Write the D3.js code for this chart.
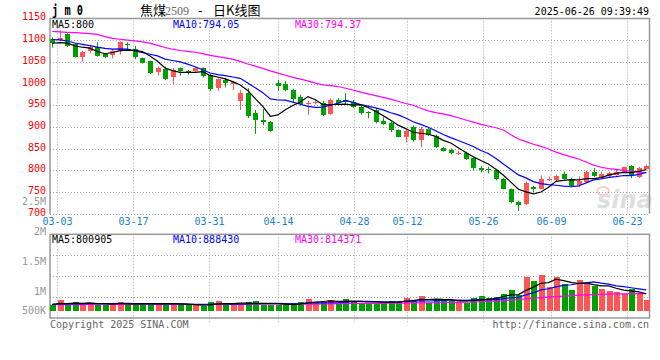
<!DOCTYPE html>
<html>
<head>
<meta charset="utf-8">
<script src="https://cdnjs.cloudflare.com/ajax/libs/d3/7.8.5/d3.min.js"></script>
<style>
body { margin: 0; background: #fff; }
svg { display: block; }
text { font-family: "DejaVu Sans Mono", "Liberation Mono", monospace; font-size: 10px; }
</style>
</head>
<body>
<div id="chart"></div>
<script>
// trading days shown, 02-28 .. 06-26
var dates = ['02-28',
  '03-03','03-04','03-05','03-06','03-07','03-10','03-11','03-12','03-13','03-14',
  '03-17','03-18','03-19','03-20','03-21','03-24','03-25','03-26','03-27','03-28','03-31',
  '04-01','04-02','04-03','04-07','04-08','04-09','04-10','04-11','04-14','04-15',
  '04-16','04-17','04-18','04-21','04-22','04-23','04-24','04-25','04-28','04-29','04-30',
  '05-06','05-07','05-08','05-09','05-12','05-13','05-14','05-15','05-16','05-19','05-20',
  '05-21','05-22','05-23','05-26','05-27','05-28','05-29','05-30',
  '06-03','06-04','06-05','06-06','06-09','06-10','06-11','06-12','06-13','06-16','06-17',
  '06-18','06-19','06-20','06-23','06-24','06-25','06-26'];

var opens = [1102,1100,1114,1091,1062,1076,1083,1068,1066,1078,
  1091,1079,1059,1052,1027,1033,1014,1035,1029,1029,
  1036,1020,989,1009,999,960,979,932,916,912,
  1002,1000,985,970,952,954,956,930,962,961,
  957,945,935,938,913,910,893,877,900,870,
  895,880,852,847,838,841,828,806,803,801,
  780,757,728,722,762,758,779,777,791,781,
  766,774,795,783,787,789,795,810,784,804];
var highs = [1106,1123,1116,1093,1075,1089,1095,1070,1080,1097,
  1095,1087,1060,1053,1039,1039,1036,1037,1031,1038,
  1037,1022,1012,1013,1006,985,989,939,941,914,
  1008,1006,988,974,960,962,960,966,966,978,
  962,948,936,942,922,912,894,893,903,900,
  897,882,854,850,844,843,830,810,808,802,
  782,758,730,774,764,788,786,790,797,783,
  786,799,805,797,797,803,808,812,808,813];
var lows = [1083,1097,1084,1060,1050,1070,1062,1058,1058,1067,
  1077,1056,1046,1022,1018,1008,999,1018,1021,1027,
  1014,983,983,991,985,939,920,884,904,889,
  983,982,957,949,927,952,925,928,950,950,
  944,928,920,908,905,888,876,864,866,853,
  879,851,843,837,835,824,800,795,793,777,
  756,724,706,720,750,757,775,773,779,762,
  762,771,785,780,785,788,793,782,782,802];
var closes = [1093,1104,1086,1062,1073,1083,1064,1061,1076,1095,
  1088,1061,1048,1025,1035,1010,1031,1028,1024,1036,
  1018,987,1010,1002,1004,979,925,916,912,891,
  994,985,964,952,954,958,928,963,956,957,
  947,933,931,912,907,893,877,891,870,896,
  881,853,845,839,841,826,805,801,800,779,
  758,726,719,770,756,779,781,787,781,764,
  776,797,787,791,793,797,807,786,806,811];
// closes of the sessions before 02-28 (for the first MA points)
var prevCloses = [1115,1110,1108,1105,1112,1098,1090,1095,1088];

var ma30 = [1120,1119,1118,1117,1116,1115,1113,1108,1104,1102,
  1100,1098,1096,1093,1088,1083,1079,1076,1074,1072,
  1069,1065,1062,1059,1056,1051,1045,1040,1035,1029,
  1024,1019,1014,1010,1006,1001,997,995,993,989,
  985,980,976,972,968,964,959,954,950,943,
  937,933,930,926,921,916,911,906,902,898,
  893,882,872,866,860,855,849,842,836,831,
  826,819,812,807,804,802,800,798,796,794.4];

// volume, thousands of lots
var volumes = [606,699,606,662,606,643,643,606,606,662,
  606,643,606,643,625,625,643,599,599,599,
  580,662,686,617,606,617,662,680,606,606,
  606,599,643,662,717,662,662,699,617,717,
  680,643,643,643,662,680,662,735,699,772,
  643,717,699,680,662,643,735,772,735,754,
  810,884,792,1126,1052,1163,940,1113,996,885,
  1060,990,960,890,870,850,815,890,800,699];
var prevVolumes = [610,620,600,640,615,600,630,610,620];
var volMa30 = [612,612,613,613,613,614,614,614,614,614,
  615,615,615,615,615,615,615,615,614,614,
  614,614,615,615,615,616,617,618,618,618,
  618,618,619,620,621,622,624,626,628,630,
  632,633,634,635,636,637,638,640,642,645,
  646,648,650,652,654,656,660,665,670,676,
  684,694,702,716,728,740,750,760,768,776,
  784,790,796,800,804,807,810,812,814,814];

var priceTicks = [700,750,800,850,900,950,1000,1050,1100,1150];
var volTicks = [500,1000,1500,2000,2500];
var volTickLabels = ['500K','1M','1.5M','2M','2.5M'];
var dateTicks = ['03-03','03-17','03-31','04-14','04-28','05-12','05-26','06-09','06-23'];

var width = 660, height = 360;
var left = 50, right = 649.5;
var pTop = 18.4, pBottom = 213.7;
var vTop = 234.3, vBottom = 318;
var red = '#ff5555', green = '#00a000', grid = '#aaa', frame = '#999';

function movingAvg(vals, prev, n) {
  var all = prev.concat(vals);
  return vals.map(function (v, i) {
    var j = i + prev.length;
    return d3.mean(all.slice(j - n + 1, j + 1));
  });
}
var ma5 = movingAvg(closes, prevCloses, 5);
var ma10 = movingAvg(closes, prevCloses, 10);
var vma5 = movingAvg(volumes, prevVolumes, 5);
var vma10 = movingAvg(volumes, prevVolumes, 10);

var svg = d3.select('#chart').append('svg')
  .attr('width', width)
  .attr('height', height);

var x = d3.scaleBand().domain(dates).range([49.5, 649]).paddingInner(0.27).paddingOuter(0);
var cx = function (d) { return x(d) + x.bandwidth() / 2; };
// the date grid of the source runs on its own, slightly wider step
var tickX = d3.scaleLinear().domain([0, dates.length - 1]).range([49.7, 650.1]);
var gx = function (d) { return Math.round(tickX(dates.indexOf(d))) + 0.5; };
var y = d3.scaleLinear().domain([700, 1150]).range([pBottom, pTop]);
var vy = d3.scaleLinear().domain([500, 2500]).range([310.7, 201.7]);
// volume labels sit on their own spacing, the lowest one kept inside the panel
var vLabelY = d3.scaleLinear().domain([1000, 2500]).range([291, 201.5]);

// grid, price panel
svg.append('g').selectAll('line')
  .data(priceTicks.slice(0, -1))
  .join('line')
  .attr('x1', left).attr('x2', right)
  .attr('y1', function (d) { return Math.round(y(d)) + 0.5; })
  .attr('y2', function (d) { return Math.round(y(d)) + 0.5; })
  .attr('stroke', grid).attr('stroke-dasharray', '1,2');

svg.append('g').selectAll('line')
  .data(dateTicks)
  .join('line')
  .attr('x1', gx).attr('x2', gx)
  .attr('y1', pTop).attr('y2', pBottom)
  .attr('stroke', grid).attr('stroke-dasharray', '1,2');

// grid, volume panel
svg.append('g').selectAll('line')
  .data([1, 2, 3])
  .join('line')
  .attr('x1', left).attr('x2', right)
  .attr('y1', function (k) { return Math.round(vTop + k * (vBottom - vTop) / 4) + 0.5; })
  .attr('y2', function (k) { return Math.round(vTop + k * (vBottom - vTop) / 4) + 0.5; })
  .attr('stroke', grid).attr('stroke-dasharray', '1,2');

svg.append('g').selectAll('line')
  .data(dateTicks)
  .join('line')
  .attr('x1', gx).attr('x2', gx)
  .attr('y1', vTop).attr('y2', 322)
  .attr('stroke', grid).attr('stroke-dasharray', '1,2');

// frames
svg.append('path')
  .attr('d', 'M' + left + ',' + pBottom + 'V' + pTop + 'H' + right + 'V' + pBottom)
  .attr('fill', 'none').attr('stroke', frame).attr('stroke-width', 1.5);
svg.append('rect')
  .attr('x', left).attr('y', vTop)
  .attr('width', right - left).attr('height', vBottom - vTop)
  .attr('fill', 'none').attr('stroke', frame).attr('stroke-width', 1.5);

// watermark
var wm = svg.append('g').attr('opacity', 0.3);
wm.append('text').attr('x', 597).attr('y', 208)
  .style('font-family', 'DejaVu Sans').style('font-size', '24px')
  .style('font-weight', 'bold').style('font-style', 'italic')
  .attr('fill', '#999').text('sina');
wm.append('ellipse').attr('cx', 603).attr('cy', 191).attr('rx', 6).attr('ry', 4)
  .attr('fill', 'none').attr('stroke', '#e66').attr('stroke-width', 2);

// candles
var candles = svg.append('g').selectAll('g')
  .data(dates)
  .join('g');
candles.append('line')
  .attr('x1', function (d) { return Math.round(cx(d)) + 0.5; })
  .attr('x2', function (d) { return Math.round(cx(d)) + 0.5; })
  .attr('y1', function (d, i) { return y(highs[i]); })
  .attr('y2', function (d, i) { return y(lows[i]); })
  .attr('stroke', function (d, i) { return closes[i] >= opens[i] ? red : green; });
candles.append('rect')
  .attr('x', function (d) { return Math.round(cx(d)) - 2; })
  .attr('width', 5)
  .attr('y', function (d, i) { return y(Math.max(opens[i], closes[i])); })
  .attr('height', function (d, i) { return Math.max(1, Math.abs(y(opens[i]) - y(closes[i]))); })
  .attr('fill', function (d, i) { return closes[i] >= opens[i] ? red : green; })
  .attr('shape-rendering', 'crispEdges');

// price MAs
var pline = d3.line().x(function (d, i) { return cx(dates[i]); }).y(function (d) { return y(d); });
[[ma30, '#ff00ff'], [ma10, '#0000ff'], [ma5, '#000']].forEach(function (m) {
  svg.append('path').attr('d', pline(m[0]))
    .attr('fill', 'none').attr('stroke', m[1]).attr('stroke-width', 1.2);
});

// volume bars
svg.append('g').selectAll('rect')
  .data(dates)
  .join('rect')
  .attr('x', function (d) { return Math.round(cx(d)) - 2.5; })
  .attr('width', 6)
  .attr('y', function (d, i) { return vy(volumes[i]); })
  .attr('height', function (d, i) { return vy(500) - vy(volumes[i]); })
  .attr('fill', function (d, i) { return closes[i] >= opens[i] ? red : green; })
  .attr('shape-rendering', 'crispEdges');

var vline = d3.line().x(function (d, i) { return cx(dates[i]); }).y(function (d) { return vy(d); });
[[volMa30, '#ff00ff'], [vma10, '#0000ff'], [vma5, '#000']].forEach(function (m) {
  svg.append('path').attr('d', vline(m[0]))
    .attr('fill', 'none').attr('stroke', m[1]).attr('stroke-width', 1.2);
});

// axis labels
svg.append('g').selectAll('text')
  .data(priceTicks)
  .join('text')
  .attr('x', 46).attr('y', function (d) { return y(d) + 2; })
  .attr('text-anchor', 'end').attr('fill', '#f00')
  .text(function (d) { return d; });

svg.append('g').selectAll('text')
  .data(volTicks)
  .join('text')
  .attr('x', 46).attr('y', function (d) { return Math.min(vLabelY(d), 310.5) + 3.5; })
  .attr('text-anchor', 'end').attr('fill', '#999')
  .text(function (d, i) { return volTickLabels[i]; });

svg.append('g').selectAll('text')
  .data(dateTicks)
  .join('text')
  .attr('x', gx)
  .attr('y', 224.5)
  .attr('text-anchor', 'middle').attr('fill', '#1a80d0')
  .text(function (d) { return d; });

// legends
var legend = [['MA5:800', '#000', 52], ['MA10:794.05', '#0000ff', 173], ['MA30:794.37', '#ff00ff', 295]];
svg.append('g').selectAll('text').data(legend).join('text')
  .attr('x', function (d) { return d[2]; }).attr('y', 28)
  .attr('fill', function (d) { return d[1]; })
  .text(function (d) { return d[0]; });
var vlegend = [['MA5:800905', '#000', 52], ['MA10:888430', '#0000ff', 173], ['MA30:814371', '#ff00ff', 295]];
svg.append('g').selectAll('text').data(vlegend).join('text')
  .attr('x', function (d) { return d[2]; }).attr('y', 243)
  .attr('fill', function (d) { return d[1]; })
  .text(function (d) { return d[0]; });

// header
svg.append('text').attr('x', 52).attr('y', 15)
  .attr('textLength', 31).attr('lengthAdjust', 'spacingAndGlyphs')
  .style('font-size', '14px').style('font-weight', 'bold')
  .text('j m 0');
var title = svg.append('text').attr('y', 15)
  .style('font-family', '"Noto Sans CJK SC", sans-serif').style('font-size', '13px');
title.append('tspan').attr('x', 140).text('焦煤');
title.append('tspan').attr('x', 165).attr('fill', '#666')
  .style('font-family', '"Liberation Serif", serif').style('font-size', '12px').text('2509');
title.append('tspan').attr('x', 198).text('-');
title.append('tspan').attr('x', 213).text('日K线图');
svg.append('text').attr('x', 649).attr('y', 15).attr('text-anchor', 'end')
  .text('2025-06-26 09:39:49');

// footer
svg.append('text').attr('x', 50).attr('y', 328).attr('fill', '#666')
  .text('Copyright 2025 SINA.COM');
svg.append('text').attr('x', 649).attr('y', 328).attr('fill', '#666')
  .attr('text-anchor', 'end')
  .text('http://finance.sina.com.cn');
</script>
</body>
</html>
